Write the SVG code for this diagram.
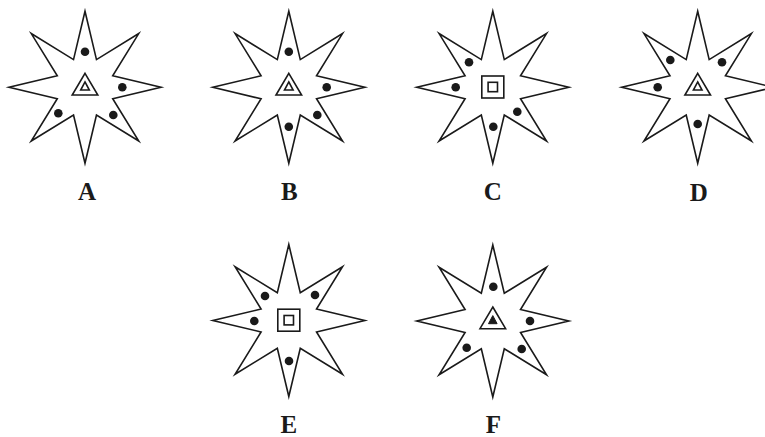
<svg xmlns="http://www.w3.org/2000/svg" xmlns:xlink="http://www.w3.org/1999/xlink" width="765" height="437" viewBox="0 0 765 437">
<style>
.star{fill:#fff;stroke:#1a1a1a;stroke-width:1.6;stroke-linejoin:miter;stroke-miterlimit:20}
.sh{fill:none;stroke:#1a1a1a;stroke-width:1.6;stroke-linejoin:miter;stroke-miterlimit:10}
.fill{fill:#1a1a1a;stroke:#1a1a1a;stroke-width:1;stroke-linejoin:miter}
.dot{fill:#1a1a1a}
.lbl{font-family:"Liberation Serif","DejaVu Serif",serif;font-weight:bold;font-size:25px;fill:#1a1a1a;text-anchor:middle}
</style>
<defs>
<polygon id="star" class="star" points="0,-76 11.48,-27.72 53.74,-53.74 27.72,-11.48 76,0 27.72,11.48 53.74,53.74 11.48,27.72 0,76 -11.48,27.72 -53.74,53.74 -27.72,11.48 -76,0 -27.72,-11.48 -53.74,-53.74 -11.48,-27.72"/>
<g id="tri">
<polygon class="sh" points="0,-14 12.8,7.7 -12.8,7.7"/>
<polygon class="sh" points="0,-5.4 4.3,2.7 -4.3,2.7"/>
</g>
<g id="trif">
<polygon class="sh" points="0,-14 12.8,7.7 -12.8,7.7"/>
<polygon class="fill" points="0,-5.4 4.3,2.7 -4.3,2.7"/>
</g>
<g id="sq">
<rect class="sh" x="-11" y="-11.3" width="22" height="22"/>
<rect class="sh" x="-4.7" y="-5" width="9.4" height="9.4"/>
</g>
</defs>
<g id="connectors"/>
<g id="A" transform="translate(85,87.3)">
<use xlink:href="#star"/>
<use xlink:href="#tri"/>
<circle class="dot" cx="0" cy="-35.6" r="4.3"/>
<circle class="dot" cx="37.3" cy="0" r="4.3"/>
<circle class="dot" cx="-26.7" cy="26" r="4.3"/>
<circle class="dot" cx="28.3" cy="27.7" r="4.3"/>
<text class="lbl" x="2" y="112.5">A</text>
</g>
<g id="B" transform="translate(288.8,87.3)">
<use xlink:href="#star"/>
<use xlink:href="#tri"/>
<circle class="dot" cx="0" cy="-35.6" r="4.3"/>
<circle class="dot" cx="37.9" cy="0" r="4.3"/>
<circle class="dot" cx="28.5" cy="27.7" r="4.3"/>
<circle class="dot" cx="0" cy="39.4" r="4.3"/>
<text class="lbl" x="0.5" y="112.5">B</text>
</g>
<g id="C" transform="translate(492.8,87.3)">
<use xlink:href="#star"/>
<use xlink:href="#sq"/>
<circle class="dot" cx="-23.8" cy="-25" r="4.3"/>
<circle class="dot" cx="-37.1" cy="0" r="4.3"/>
<circle class="dot" cx="24.5" cy="24.4" r="4.3"/>
<circle class="dot" cx="0.5" cy="39.4" r="4.3"/>
<text class="lbl" x="0" y="112.5">C</text>
</g>
<g id="D" transform="translate(697.7,87.3)">
<use xlink:href="#star"/>
<use xlink:href="#tri"/>
<circle class="dot" cx="-27.4" cy="-27.3" r="4.3"/>
<circle class="dot" cx="24.3" cy="-25" r="4.3"/>
<circle class="dot" cx="-40" cy="0" r="4.3"/>
<circle class="dot" cx="0" cy="36.7" r="4.3"/>
<text class="lbl" x="1" y="114">D</text>
</g>
<g id="E" transform="translate(288.8,320.5)">
<use xlink:href="#star"/>
<use xlink:href="#sq"/>
<circle class="dot" cx="-23.8" cy="-24.5" r="4.3"/>
<circle class="dot" cx="26.2" cy="-25.5" r="4.3"/>
<circle class="dot" cx="-34.5" cy="0.5" r="4.3"/>
<circle class="dot" cx="0.2" cy="40.5" r="4.3"/>
<text class="lbl" x="0" y="112.5">E</text>
</g>
<g id="F" transform="translate(492.8,321)">
<use xlink:href="#star"/>
<use xlink:href="#trif"/>
<circle class="dot" cx="0.5" cy="-34.3" r="4.3"/>
<circle class="dot" cx="37.2" cy="0" r="4.3"/>
<circle class="dot" cx="-26.1" cy="26.7" r="4.3"/>
<circle class="dot" cx="28.9" cy="28" r="4.3"/>
<text class="lbl" x="0.5" y="112">F</text>
</g>
</svg>
